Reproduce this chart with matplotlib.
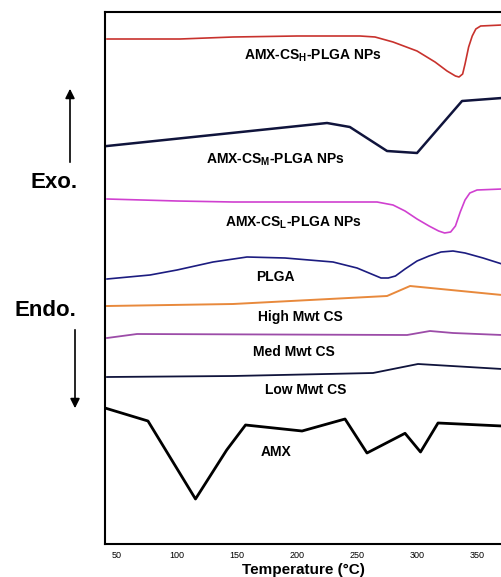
import matplotlib
matplotlib.use('Agg')
import matplotlib.pyplot as plt

plt.rcParams['font.family'] = ['Liberation Sans', 'DejaVu Sans']
plt.rcParams['mathtext.fontset'] = 'custom'
plt.rcParams['mathtext.bf'] = 'Liberation Sans:bold'
plt.rcParams['mathtext.rm'] = 'Liberation Sans:bold'

# DSC thermograms, temperature (°C) vs. heat flow (arbitrary, stacked units)
t_cs_h = [41.7, 102.5, 146.7, 200, 252.5, 265, 280, 300, 315, 325, 332, 335, 338, 340, 343, 346, 349, 353, 370.8]
y_cs_h = [505, 505, 507, 508, 508, 507, 502, 493, 482, 473, 468, 467, 470, 480, 497, 508, 515, 518, 519]

t_cs_m = [41.7, 225, 244, 275, 300, 337.5, 370.8]
y_cs_m = [398, 421, 417, 393, 391, 443, 446]

t_cs_l = [41.7, 100, 146.7, 200, 266.7, 280, 290, 300, 310, 318, 323, 328, 332, 336, 340, 344, 350, 370.8]
y_cs_l = [345, 343, 342, 342, 342, 339, 333, 325, 318, 313, 311, 312, 318, 332, 344, 351, 354, 355]

t_plga = [41.7, 77.5, 100, 130, 158.3, 190, 230, 250, 262, 270, 276, 282, 290, 300, 310, 320, 330, 340, 355, 370.8]
y_plga = [265, 269, 274, 282, 287, 286, 282, 276, 270, 266, 266, 268, 275, 283, 288, 292, 293, 291, 286, 280]

t_high = [41.7, 146.7, 275, 294.2, 370.8]
y_high = [238, 240, 248, 258, 249]

t_med = [41.7, 66.7, 291.7, 310.8, 330, 370.8]
y_med = [206, 210, 209, 213, 211, 209]

t_low = [41.7, 146.7, 263.3, 300.8, 370.8]
y_low = [167, 168, 171, 180, 175]

t_amx = [40, 75.8, 115.4, 141.4, 157.1, 204.2, 240, 258.3, 290, 302.9, 317.5, 370.8]
y_amx = [136, 123, 45, 94, 119, 113, 125, 91, 110.7, 92, 121, 118]

fig = plt.figure(figsize=(5.02, 5.77), dpi=100)
ax = fig.add_axes([105 / 502, 33 / 577, 397 / 502, 532 / 577])

ax.plot(t_cs_h, y_cs_h, color='#c8322d', lw=1.2)
ax.plot(t_cs_m, y_cs_m, color='#10143c', lw=1.8)
ax.plot(t_cs_l, y_cs_l, color='#d040d0', lw=1.2)
ax.plot(t_plga, y_plga, color='#1c1c80', lw=1.2)
ax.plot(t_high, y_high, color='#e8893c', lw=1.4)
ax.plot(t_med, y_med, color='#9c4ca8', lw=1.3)
ax.plot(t_low, y_low, color='#10143c', lw=1.3)
ax.plot(t_amx, y_amx, color='black', lw=2.0)

ax.set_xlim(40, 370.8)
ax.set_ylim(0, 532)
ax.set_yticks([])
ax.set_xticks([50, 100, 150, 200, 250, 300, 350])
ax.tick_params(axis='x', length=0, pad=5, labelsize=6.5)
ax.spines['right'].set_visible(False)
for s in ['left', 'top', 'bottom']:
    ax.spines[s].set_linewidth(1.5)
ax.set_xlabel('Temperature (°C)', fontsize=11, fontweight='bold', labelpad=2)

kw = dict(ha='center', va='center', fontsize=10, fontweight='bold')
ax.text(213, 488, r'AMX-CS$_{\mathbf{H}}$-PLGA NPs', **kw)
ax.text(181.7, 384, r'AMX-CS$_{\mathbf{M}}$-PLGA NPs', **kw)
ax.text(196.7, 321, r'AMX-CS$_{\mathbf{L}}$-PLGA NPs', **kw)
ax.text(182, 267, 'PLGA', **kw)
ax.text(203, 227, 'High Mwt CS', **kw)
ax.text(197.5, 192, 'Med Mwt CS', **kw)
ax.text(207, 154, 'Low Mwt CS', **kw)
ax.text(182.5, 92, 'AMX', **kw)

fig.text(54 / 502, 1 - 183 / 577, 'Exo.', ha='center', va='center', fontsize=16, fontweight='bold')
fig.text(45 / 502, 1 - 310 / 577, 'Endo.', ha='center', va='center', fontsize=16, fontweight='bold')
ax.annotate('', xy=(70 / 502, 1 - 86 / 577), xytext=(70 / 502, 1 - 165 / 577),
            xycoords='figure fraction', textcoords='figure fraction',
            arrowprops=dict(arrowstyle='-|>', color='black', lw=1.2, mutation_scale=14))
ax.annotate('', xy=(75 / 502, 1 - 411 / 577), xytext=(75 / 502, 1 - 327 / 577),
            xycoords='figure fraction', textcoords='figure fraction',
            arrowprops=dict(arrowstyle='-|>', color='black', lw=1.2, mutation_scale=14))

fig.savefig('out.png', dpi=100)
